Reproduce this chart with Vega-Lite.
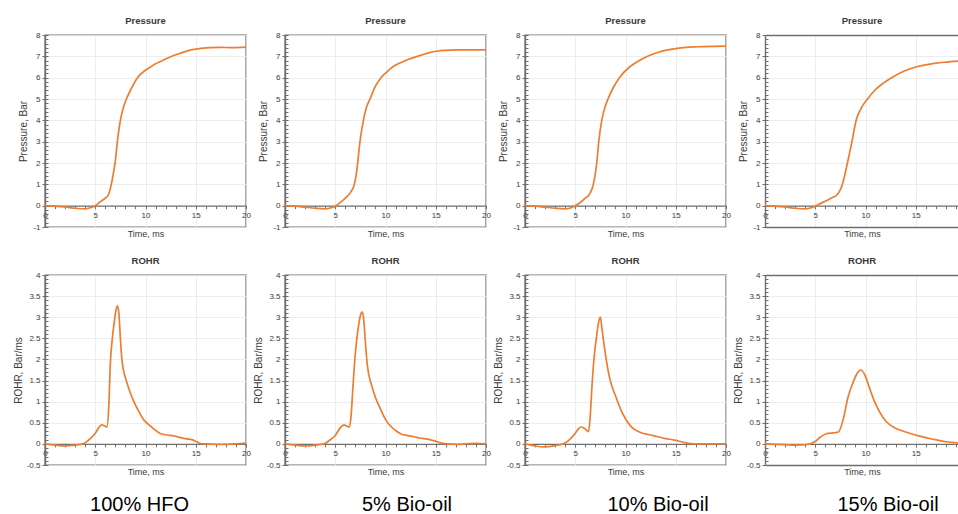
{
  "$schema": "https://vega.github.io/schema/vega-lite/v6.json",
  "padding": {"left": 12, "top": 14, "right": 0, "bottom": 0},
  "datasets": {
    "curves": [
      {"f":"HFO","k":"P","t":0,"v":0},{"f":"HFO","k":"P","t":1,"v":-0.02},{"f":"HFO","k":"P","t":2,"v":-0.06},{"f":"HFO","k":"P","t":3,"v":-0.12},{"f":"HFO","k":"P","t":4,"v":-0.15},{"f":"HFO","k":"P","t":4.5,"v":-0.1},{"f":"HFO","k":"P","t":5,"v":0},{"f":"HFO","k":"P","t":5.5,"v":0.18},{"f":"HFO","k":"P","t":6,"v":0.35},{"f":"HFO","k":"P","t":6.3,"v":0.5},{"f":"HFO","k":"P","t":6.6,"v":1.0},{"f":"HFO","k":"P","t":6.8,"v":1.5},{"f":"HFO","k":"P","t":7.0,"v":2.1},{"f":"HFO","k":"P","t":7.2,"v":3.0},{"f":"HFO","k":"P","t":7.5,"v":4.0},{"f":"HFO","k":"P","t":7.8,"v":4.6},{"f":"HFO","k":"P","t":8.1,"v":5.0},{"f":"HFO","k":"P","t":8.6,"v":5.5},{"f":"HFO","k":"P","t":9.2,"v":6.0},{"f":"HFO","k":"P","t":10,"v":6.35},{"f":"HFO","k":"P","t":10.5,"v":6.5},{"f":"HFO","k":"P","t":11,"v":6.65},{"f":"HFO","k":"P","t":11.5,"v":6.76},{"f":"HFO","k":"P","t":12.5,"v":6.98},{"f":"HFO","k":"P","t":13.5,"v":7.15},{"f":"HFO","k":"P","t":14.5,"v":7.3},{"f":"HFO","k":"P","t":15.5,"v":7.37},{"f":"HFO","k":"P","t":16.5,"v":7.41},{"f":"HFO","k":"P","t":17.5,"v":7.42},{"f":"HFO","k":"P","t":18.5,"v":7.41},{"f":"HFO","k":"P","t":19.5,"v":7.42},{"f":"HFO","k":"P","t":20,"v":7.43},
      {"f":"B5","k":"P","t":0,"v":0},{"f":"B5","k":"P","t":1,"v":-0.02},{"f":"B5","k":"P","t":2,"v":-0.07},{"f":"B5","k":"P","t":3,"v":-0.12},{"f":"B5","k":"P","t":4,"v":-0.15},{"f":"B5","k":"P","t":4.6,"v":-0.1},{"f":"B5","k":"P","t":5.07,"v":0},{"f":"B5","k":"P","t":5.5,"v":0.15},{"f":"B5","k":"P","t":6,"v":0.35},{"f":"B5","k":"P","t":6.57,"v":0.66},{"f":"B5","k":"P","t":6.9,"v":1.0},{"f":"B5","k":"P","t":7.1,"v":1.5},{"f":"B5","k":"P","t":7.23,"v":2.0},{"f":"B5","k":"P","t":7.46,"v":3.0},{"f":"B5","k":"P","t":7.8,"v":4.0},{"f":"B5","k":"P","t":8.1,"v":4.6},{"f":"B5","k":"P","t":8.46,"v":5.0},{"f":"B5","k":"P","t":9.0,"v":5.6},{"f":"B5","k":"P","t":9.55,"v":6.0},{"f":"B5","k":"P","t":10.1,"v":6.25},{"f":"B5","k":"P","t":10.7,"v":6.5},{"f":"B5","k":"P","t":11.5,"v":6.7},{"f":"B5","k":"P","t":12.3,"v":6.86},{"f":"B5","k":"P","t":13.2,"v":7.0},{"f":"B5","k":"P","t":14.2,"v":7.15},{"f":"B5","k":"P","t":15.2,"v":7.25},{"f":"B5","k":"P","t":16,"v":7.28},{"f":"B5","k":"P","t":17,"v":7.3},{"f":"B5","k":"P","t":18,"v":7.3},{"f":"B5","k":"P","t":19,"v":7.3},{"f":"B5","k":"P","t":20,"v":7.3},
      {"f":"B10","k":"P","t":0,"v":0},{"f":"B10","k":"P","t":1,"v":-0.02},{"f":"B10","k":"P","t":2,"v":-0.07},{"f":"B10","k":"P","t":3,"v":-0.12},{"f":"B10","k":"P","t":4,"v":-0.15},{"f":"B10","k":"P","t":4.6,"v":-0.1},{"f":"B10","k":"P","t":5.0,"v":0},{"f":"B10","k":"P","t":5.5,"v":0.15},{"f":"B10","k":"P","t":6.0,"v":0.35},{"f":"B10","k":"P","t":6.5,"v":0.6},{"f":"B10","k":"P","t":6.8,"v":1.0},{"f":"B10","k":"P","t":7.0,"v":1.5},{"f":"B10","k":"P","t":7.14,"v":2.0},{"f":"B10","k":"P","t":7.34,"v":3.0},{"f":"B10","k":"P","t":7.64,"v":4.0},{"f":"B10","k":"P","t":7.95,"v":4.6},{"f":"B10","k":"P","t":8.26,"v":5.0},{"f":"B10","k":"P","t":8.8,"v":5.55},{"f":"B10","k":"P","t":9.4,"v":6.0},{"f":"B10","k":"P","t":10.4,"v":6.5},{"f":"B10","k":"P","t":11.3,"v":6.78},{"f":"B10","k":"P","t":12.2,"v":7.0},{"f":"B10","k":"P","t":13.2,"v":7.18},{"f":"B10","k":"P","t":14.2,"v":7.3},{"f":"B10","k":"P","t":15.5,"v":7.4},{"f":"B10","k":"P","t":17.2,"v":7.45},{"f":"B10","k":"P","t":18.5,"v":7.47},{"f":"B10","k":"P","t":20,"v":7.48},
      {"f":"B15","k":"P","t":0,"v":0},{"f":"B15","k":"P","t":1,"v":-0.02},{"f":"B15","k":"P","t":2,"v":-0.06},{"f":"B15","k":"P","t":3,"v":-0.12},{"f":"B15","k":"P","t":4,"v":-0.15},{"f":"B15","k":"P","t":4.6,"v":-0.1},{"f":"B15","k":"P","t":5.06,"v":0},{"f":"B15","k":"P","t":5.6,"v":0.12},{"f":"B15","k":"P","t":6.2,"v":0.25},{"f":"B15","k":"P","t":6.7,"v":0.38},{"f":"B15","k":"P","t":7.15,"v":0.5},{"f":"B15","k":"P","t":7.45,"v":0.7},{"f":"B15","k":"P","t":7.7,"v":1.0},{"f":"B15","k":"P","t":8.2,"v":2.0},{"f":"B15","k":"P","t":8.65,"v":3.0},{"f":"B15","k":"P","t":9.07,"v":4.0},{"f":"B15","k":"P","t":9.6,"v":4.6},{"f":"B15","k":"P","t":10.2,"v":5.0},{"f":"B15","k":"P","t":10.9,"v":5.4},{"f":"B15","k":"P","t":11.7,"v":5.72},{"f":"B15","k":"P","t":12.6,"v":6.0},{"f":"B15","k":"P","t":13.8,"v":6.3},{"f":"B15","k":"P","t":15,"v":6.5},{"f":"B15","k":"P","t":16,"v":6.6},{"f":"B15","k":"P","t":17,"v":6.68},{"f":"B15","k":"P","t":18,"v":6.73},{"f":"B15","k":"P","t":19.3,"v":6.78},
      {"f":"HFO","k":"R","t":0,"v":0},{"f":"HFO","k":"R","t":1,"v":-0.03},{"f":"HFO","k":"R","t":2,"v":-0.05},{"f":"HFO","k":"R","t":3,"v":-0.03},{"f":"HFO","k":"R","t":3.8,"v":0},{"f":"HFO","k":"R","t":4.3,"v":0.08},{"f":"HFO","k":"R","t":5,"v":0.25},{"f":"HFO","k":"R","t":5.4,"v":0.4},{"f":"HFO","k":"R","t":5.65,"v":0.45},{"f":"HFO","k":"R","t":5.9,"v":0.43},{"f":"HFO","k":"R","t":6.15,"v":0.4},{"f":"HFO","k":"R","t":6.35,"v":0.9},{"f":"HFO","k":"R","t":6.5,"v":1.9},{"f":"HFO","k":"R","t":6.7,"v":2.5},{"f":"HFO","k":"R","t":6.9,"v":2.9},{"f":"HFO","k":"R","t":7.05,"v":3.15},{"f":"HFO","k":"R","t":7.2,"v":3.27},{"f":"HFO","k":"R","t":7.35,"v":3.1},{"f":"HFO","k":"R","t":7.5,"v":2.5},{"f":"HFO","k":"R","t":7.65,"v":2.0},{"f":"HFO","k":"R","t":7.85,"v":1.7},{"f":"HFO","k":"R","t":8.1,"v":1.49},{"f":"HFO","k":"R","t":8.5,"v":1.2},{"f":"HFO","k":"R","t":8.85,"v":1.0},{"f":"HFO","k":"R","t":9.3,"v":0.78},{"f":"HFO","k":"R","t":9.8,"v":0.58},{"f":"HFO","k":"R","t":10.5,"v":0.42},{"f":"HFO","k":"R","t":11,"v":0.32},{"f":"HFO","k":"R","t":11.5,"v":0.24},{"f":"HFO","k":"R","t":12.2,"v":0.21},{"f":"HFO","k":"R","t":12.8,"v":0.19},{"f":"HFO","k":"R","t":13.5,"v":0.15},{"f":"HFO","k":"R","t":14.1,"v":0.12},{"f":"HFO","k":"R","t":14.6,"v":0.1},{"f":"HFO","k":"R","t":15.1,"v":0.05},{"f":"HFO","k":"R","t":15.5,"v":0.01},{"f":"HFO","k":"R","t":16,"v":0},{"f":"HFO","k":"R","t":17,"v":-0.01},{"f":"HFO","k":"R","t":18,"v":-0.01},{"f":"HFO","k":"R","t":19,"v":0},{"f":"HFO","k":"R","t":20,"v":0.02},
      {"f":"B5","k":"R","t":0,"v":0},{"f":"B5","k":"R","t":1,"v":-0.03},{"f":"B5","k":"R","t":2,"v":-0.05},{"f":"B5","k":"R","t":3,"v":-0.03},{"f":"B5","k":"R","t":3.9,"v":0},{"f":"B5","k":"R","t":4.4,"v":0.08},{"f":"B5","k":"R","t":5,"v":0.2},{"f":"B5","k":"R","t":5.5,"v":0.38},{"f":"B5","k":"R","t":5.87,"v":0.45},{"f":"B5","k":"R","t":6.1,"v":0.43},{"f":"B5","k":"R","t":6.37,"v":0.4},{"f":"B5","k":"R","t":6.55,"v":0.6},{"f":"B5","k":"R","t":6.75,"v":1.3},{"f":"B5","k":"R","t":6.95,"v":2.0},{"f":"B5","k":"R","t":7.15,"v":2.5},{"f":"B5","k":"R","t":7.35,"v":2.85},{"f":"B5","k":"R","t":7.55,"v":3.08},{"f":"B5","k":"R","t":7.68,"v":3.13},{"f":"B5","k":"R","t":7.85,"v":2.9},{"f":"B5","k":"R","t":8.0,"v":2.4},{"f":"B5","k":"R","t":8.2,"v":1.85},{"f":"B5","k":"R","t":8.6,"v":1.4},{"f":"B5","k":"R","t":9.0,"v":1.1},{"f":"B5","k":"R","t":9.45,"v":0.85},{"f":"B5","k":"R","t":10.1,"v":0.54},{"f":"B5","k":"R","t":10.6,"v":0.4},{"f":"B5","k":"R","t":11.1,"v":0.3},{"f":"B5","k":"R","t":11.6,"v":0.23},{"f":"B5","k":"R","t":12.1,"v":0.2},{"f":"B5","k":"R","t":12.8,"v":0.17},{"f":"B5","k":"R","t":13.4,"v":0.14},{"f":"B5","k":"R","t":14.4,"v":0.1},{"f":"B5","k":"R","t":14.9,"v":0.07},{"f":"B5","k":"R","t":15.4,"v":0.03},{"f":"B5","k":"R","t":16.2,"v":0},{"f":"B5","k":"R","t":17,"v":-0.01},{"f":"B5","k":"R","t":18,"v":0},{"f":"B5","k":"R","t":19,"v":0.01},{"f":"B5","k":"R","t":20,"v":0},
      {"f":"B10","k":"R","t":0,"v":0},{"f":"B10","k":"R","t":1,"v":-0.05},{"f":"B10","k":"R","t":2,"v":-0.07},{"f":"B10","k":"R","t":3,"v":-0.04},{"f":"B10","k":"R","t":3.8,"v":0},{"f":"B10","k":"R","t":4.3,"v":0.07},{"f":"B10","k":"R","t":5.0,"v":0.25},{"f":"B10","k":"R","t":5.3,"v":0.35},{"f":"B10","k":"R","t":5.57,"v":0.4},{"f":"B10","k":"R","t":5.9,"v":0.37},{"f":"B10","k":"R","t":6.33,"v":0.29},{"f":"B10","k":"R","t":6.5,"v":0.7},{"f":"B10","k":"R","t":6.7,"v":1.5},{"f":"B10","k":"R","t":6.9,"v":2.1},{"f":"B10","k":"R","t":7.1,"v":2.5},{"f":"B10","k":"R","t":7.3,"v":2.85},{"f":"B10","k":"R","t":7.5,"v":3.0},{"f":"B10","k":"R","t":7.65,"v":2.75},{"f":"B10","k":"R","t":7.9,"v":2.29},{"f":"B10","k":"R","t":8.4,"v":1.58},{"f":"B10","k":"R","t":9.05,"v":1.11},{"f":"B10","k":"R","t":9.7,"v":0.72},{"f":"B10","k":"R","t":10.55,"v":0.41},{"f":"B10","k":"R","t":11.5,"v":0.27},{"f":"B10","k":"R","t":12.5,"v":0.21},{"f":"B10","k":"R","t":13.2,"v":0.17},{"f":"B10","k":"R","t":13.9,"v":0.13},{"f":"B10","k":"R","t":14.9,"v":0.09},{"f":"B10","k":"R","t":15.9,"v":0.03},{"f":"B10","k":"R","t":16.8,"v":0},{"f":"B10","k":"R","t":18,"v":0},{"f":"B10","k":"R","t":19,"v":0},{"f":"B10","k":"R","t":20,"v":0},
      {"f":"B15","k":"R","t":0,"v":0},{"f":"B15","k":"R","t":1,"v":-0.01},{"f":"B15","k":"R","t":2,"v":-0.02},{"f":"B15","k":"R","t":3,"v":-0.03},{"f":"B15","k":"R","t":4,"v":-0.02},{"f":"B15","k":"R","t":4.5,"v":0},{"f":"B15","k":"R","t":4.95,"v":0.05},{"f":"B15","k":"R","t":5.45,"v":0.15},{"f":"B15","k":"R","t":6.1,"v":0.24},{"f":"B15","k":"R","t":6.8,"v":0.26},{"f":"B15","k":"R","t":7.3,"v":0.28},{"f":"B15","k":"R","t":7.8,"v":0.6},{"f":"B15","k":"R","t":8.25,"v":1.1},{"f":"B15","k":"R","t":8.75,"v":1.45},{"f":"B15","k":"R","t":9.25,"v":1.7},{"f":"B15","k":"R","t":9.55,"v":1.75},{"f":"B15","k":"R","t":9.9,"v":1.65},{"f":"B15","k":"R","t":10.4,"v":1.32},{"f":"B15","k":"R","t":10.9,"v":1.0},{"f":"B15","k":"R","t":11.4,"v":0.76},{"f":"B15","k":"R","t":12.05,"v":0.53},{"f":"B15","k":"R","t":13.0,"v":0.37},{"f":"B15","k":"R","t":14.0,"v":0.28},{"f":"B15","k":"R","t":15.3,"v":0.19},{"f":"B15","k":"R","t":16.7,"v":0.11},{"f":"B15","k":"R","t":18,"v":0.05},{"f":"B15","k":"R","t":19.5,"v":0.02}
    ]
  },
  "data": {"name": "curves"},
  "columns": 4,
  "spacing": {"row": 48, "column": 39},
  "bounds": "flush",
  "concat": [
    {
      "width": 201, "height": 192, "title": "Pressure",
      "transform": [{"filter": "datum.f == 'HFO' && datum.k == 'P'"}],
      "layer": [
        {"mark": {"type": "line", "clip": true},
         "encoding": {
           "x": {"field": "t", "type": "quantitative", "scale": {"domain": [0, 20], "nice": false},
                 "axis": {"values": [0,5,10,15,20], "offset": -21.33, "tickSize": 3, "labelPadding": 3, "labelFlush": false, "labelOverlap": false, "grid": true, "title": "Time, ms", "titleFontSize": 9, "titleY": 28, "titleBaseline": "middle"}},
           "y": {"field": "v", "type": "quantitative", "scale": {"domain": [-1, 8], "nice": false, "zero": false},
                 "axis": {"values": [-1,0,1,2,3,4,5,6,7,8], "labelExpr": "'' + datum.value", "tickSize": 3, "labelPadding": 2, "grid": true, "title": "Pressure, Bar", "titleX": -22, "titleY": 96, "titleAngle": -90, "titleAlign": "center", "titleBaseline": "middle"}}
         }},
        {"mark": {"type": "line", "opacity": 0},
         "encoding": {
           "x": {"field": "t", "type": "quantitative", "scale": {"domain": [0, 20], "nice": false},
                 "axis": {"orient": "bottom", "values": [0,1,2,3,4,5,6,7,8,9,10,11,12,13,14,15,16,17,18,19,20], "offset": -21.33, "tickSize": 3, "tickWidth": 1, "labels": false, "domain": false, "grid": false, "title": null}},
           "y": {"field": "v", "type": "quantitative", "scale": {"domain": [-1, 8], "nice": false, "zero": false},
                 "axis": {"orient": "left", "values": [-1,-0.8,-0.6,-0.4,-0.2,0,0.2,0.4,0.6,0.8,1,1.2,1.4,1.6,1.8,2,2.2,2.4,2.6,2.8,3,3.2,3.4,3.6,3.8,4,4.2,4.4,4.6,4.8,5,5.2,5.4,5.6,5.8,6,6.2,6.4,6.6,6.8,7,7.2,7.4,7.6,7.8,8], "tickSize": -3, "tickWidth": 1, "labels": false, "domain": false, "grid": false, "title": null}}
         }}
      ],
      "resolve": {"axis": {"x": "independent", "y": "independent"}}
    },
    {
      "width": 201, "height": 192, "title": "Pressure",
      "transform": [{"filter": "datum.f == 'B5' && datum.k == 'P'"}],
      "layer": [
        {"mark": {"type": "line", "clip": true},
         "encoding": {
           "x": {"field": "t", "type": "quantitative", "scale": {"domain": [0, 20], "nice": false},
                 "axis": {"values": [0,5,10,15,20], "offset": -21.33, "tickSize": 3, "labelPadding": 3, "labelFlush": false, "labelOverlap": false, "grid": true, "title": "Time, ms", "titleFontSize": 9, "titleY": 28, "titleBaseline": "middle"}},
           "y": {"field": "v", "type": "quantitative", "scale": {"domain": [-1, 8], "nice": false, "zero": false},
                 "axis": {"values": [-1,0,1,2,3,4,5,6,7,8], "labelExpr": "'' + datum.value", "tickSize": 3, "labelPadding": 2, "grid": true, "title": "Pressure, Bar", "titleX": -22, "titleY": 96, "titleAngle": -90, "titleAlign": "center", "titleBaseline": "middle"}}
         }},
        {"mark": {"type": "line", "opacity": 0},
         "encoding": {
           "x": {"field": "t", "type": "quantitative", "scale": {"domain": [0, 20], "nice": false},
                 "axis": {"orient": "bottom", "values": [0,1,2,3,4,5,6,7,8,9,10,11,12,13,14,15,16,17,18,19,20], "offset": -21.33, "tickSize": 3, "tickWidth": 1, "labels": false, "domain": false, "grid": false, "title": null}},
           "y": {"field": "v", "type": "quantitative", "scale": {"domain": [-1, 8], "nice": false, "zero": false},
                 "axis": {"orient": "left", "values": [-1,-0.8,-0.6,-0.4,-0.2,0,0.2,0.4,0.6,0.8,1,1.2,1.4,1.6,1.8,2,2.2,2.4,2.6,2.8,3,3.2,3.4,3.6,3.8,4,4.2,4.4,4.6,4.8,5,5.2,5.4,5.6,5.8,6,6.2,6.4,6.6,6.8,7,7.2,7.4,7.6,7.8,8], "tickSize": -3, "tickWidth": 1, "labels": false, "domain": false, "grid": false, "title": null}}
         }}
      ],
      "resolve": {"axis": {"x": "independent", "y": "independent"}}
    },
    {
      "width": 201, "height": 192, "title": "Pressure",
      "transform": [{"filter": "datum.f == 'B10' && datum.k == 'P'"}],
      "layer": [
        {"mark": {"type": "line", "clip": true},
         "encoding": {
           "x": {"field": "t", "type": "quantitative", "scale": {"domain": [0, 20], "nice": false},
                 "axis": {"values": [0,5,10,15,20], "offset": -21.33, "tickSize": 3, "labelPadding": 3, "labelFlush": false, "labelOverlap": false, "grid": true, "title": "Time, ms", "titleFontSize": 9, "titleY": 28, "titleBaseline": "middle"}},
           "y": {"field": "v", "type": "quantitative", "scale": {"domain": [-1, 8], "nice": false, "zero": false},
                 "axis": {"values": [-1,0,1,2,3,4,5,6,7,8], "labelExpr": "'' + datum.value", "tickSize": 3, "labelPadding": 2, "grid": true, "title": "Pressure, Bar", "titleX": -22, "titleY": 96, "titleAngle": -90, "titleAlign": "center", "titleBaseline": "middle"}}
         }},
        {"mark": {"type": "line", "opacity": 0},
         "encoding": {
           "x": {"field": "t", "type": "quantitative", "scale": {"domain": [0, 20], "nice": false},
                 "axis": {"orient": "bottom", "values": [0,1,2,3,4,5,6,7,8,9,10,11,12,13,14,15,16,17,18,19,20], "offset": -21.33, "tickSize": 3, "tickWidth": 1, "labels": false, "domain": false, "grid": false, "title": null}},
           "y": {"field": "v", "type": "quantitative", "scale": {"domain": [-1, 8], "nice": false, "zero": false},
                 "axis": {"orient": "left", "values": [-1,-0.8,-0.6,-0.4,-0.2,0,0.2,0.4,0.6,0.8,1,1.2,1.4,1.6,1.8,2,2.2,2.4,2.6,2.8,3,3.2,3.4,3.6,3.8,4,4.2,4.4,4.6,4.8,5,5.2,5.4,5.6,5.8,6,6.2,6.4,6.6,6.8,7,7.2,7.4,7.6,7.8,8], "tickSize": -3, "tickWidth": 1, "labels": false, "domain": false, "grid": false, "title": null}}
         }}
      ],
      "resolve": {"axis": {"x": "independent", "y": "independent"}}
    },
    {
      "width": 194, "height": 192, "title": "Pressure",
      "view": {"stroke": null},
      "transform": [{"filter": "datum.f == 'B15' && datum.k == 'P'"}],
      "layer": [
        {"mark": {"type": "line", "clip": true},
         "encoding": {
           "x": {"field": "t", "type": "quantitative", "scale": {"domain": [0, 19.3], "nice": false},
                 "axis": {"values": [0,5,10,15], "offset": -21.33, "tickSize": 3, "labelPadding": 3, "labelFlush": false, "labelOverlap": false, "grid": true, "title": "Time, ms", "titleFontSize": 9, "titleY": 28, "titleBaseline": "middle"}},
           "y": {"field": "v", "type": "quantitative", "scale": {"domain": [-1, 8], "nice": false, "zero": false},
                 "axis": {"values": [-1,0,1,2,3,4,5,6,7,8], "labelExpr": "'' + datum.value", "tickSize": 3, "labelPadding": 2, "grid": true, "title": "Pressure, Bar", "titleX": -22, "titleY": 96, "titleAngle": -90, "titleAlign": "center", "titleBaseline": "middle"}}
         }},
        {"mark": {"type": "line", "opacity": 0},
         "encoding": {
           "x": {"field": "t", "type": "quantitative", "scale": {"domain": [0, 19.3], "nice": false},
                 "axis": {"orient": "bottom", "values": [0,1,2,3,4,5,6,7,8,9,10,11,12,13,14,15,16,17,18,19], "offset": -21.33, "tickSize": 3, "tickWidth": 1, "labels": false, "domain": false, "grid": false, "title": null}},
           "y": {"field": "v", "type": "quantitative", "scale": {"domain": [-1, 8], "nice": false, "zero": false},
                 "axis": {"orient": "left", "values": [-1,-0.8,-0.6,-0.4,-0.2,0,0.2,0.4,0.6,0.8,1,1.2,1.4,1.6,1.8,2,2.2,2.4,2.6,2.8,3,3.2,3.4,3.6,3.8,4,4.2,4.4,4.6,4.8,5,5.2,5.4,5.6,5.8,6,6.2,6.4,6.6,6.8,7,7.2,7.4,7.6,7.8,8], "tickSize": -3, "tickWidth": 1, "labels": false, "domain": false, "grid": false, "title": null}}
         }},
        {"mark": {"type": "line", "opacity": 0},
         "encoding": {
           "x": {"field": "t", "type": "quantitative", "scale": {"domain": [0, 19.3], "nice": false},
                 "axis": {"orient": "top", "domain": true, "ticks": false, "labels": false, "grid": false, "title": null}},
           "y": {"field": "v", "type": "quantitative", "scale": {"domain": [-1, 8], "nice": false, "zero": false}, "axis": null}
         }},
        {"mark": {"type": "line", "opacity": 0},
         "encoding": {
           "x": {"field": "t", "type": "quantitative", "scale": {"domain": [0, 19.3], "nice": false},
                 "axis": {"orient": "bottom", "domain": true, "ticks": false, "labels": false, "grid": false, "title": null}},
           "y": {"field": "v", "type": "quantitative", "scale": {"domain": [-1, 8], "nice": false, "zero": false}, "axis": null}
         }}
      ],
      "resolve": {"axis": {"x": "independent", "y": "independent"}}
    },
    {
      "width": 201, "height": 190, "title": "ROHR",
      "transform": [{"filter": "datum.f == 'HFO' && datum.k == 'R'"}],
      "layer": [
        {"mark": {"type": "line", "clip": true},
         "encoding": {
           "x": {"field": "t", "type": "quantitative", "scale": {"domain": [0, 20], "nice": false},
                 "axis": {"values": [0,5,10,15,20], "offset": -21.11, "tickSize": 3, "labelPadding": 3, "labelFlush": false, "labelOverlap": false, "grid": true, "title": "Time, ms", "titleFontSize": 9, "titleY": 28, "titleBaseline": "middle"}},
           "y": {"field": "v", "type": "quantitative", "scale": {"domain": [-0.5, 4], "nice": false, "zero": false},
                 "axis": {"values": [-0.5,0,0.5,1,1.5,2,2.5,3,3.5,4], "labelExpr": "'' + datum.value", "tickSize": 3, "labelPadding": 2, "grid": true, "title": "ROHR, Bar/ms", "titleX": -27, "titleY": 95, "titleAngle": -90, "titleAlign": "center", "titleBaseline": "middle"}}
         }},
        {"mark": {"type": "line", "opacity": 0},
         "encoding": {
           "x": {"field": "t", "type": "quantitative", "scale": {"domain": [0, 20], "nice": false},
                 "axis": {"orient": "bottom", "values": [0,1,2,3,4,5,6,7,8,9,10,11,12,13,14,15,16,17,18,19,20], "offset": -21.11, "tickSize": 3, "tickWidth": 1, "labels": false, "domain": false, "grid": false, "title": null}},
           "y": {"field": "v", "type": "quantitative", "scale": {"domain": [-0.5, 4], "nice": false, "zero": false},
                 "axis": {"orient": "left", "values": [-0.5,-0.4,-0.3,-0.2,-0.1,0,0.1,0.2,0.3,0.4,0.5,0.6,0.7,0.8,0.9,1,1.1,1.2,1.3,1.4,1.5,1.6,1.7,1.8,1.9,2,2.1,2.2,2.3,2.4,2.5,2.6,2.7,2.8,2.9,3,3.1,3.2,3.3,3.4,3.5,3.6,3.7,3.8,3.9,4], "tickSize": -3, "tickWidth": 1, "labels": false, "domain": false, "grid": false, "title": null}}
         }}
      ],
      "resolve": {"axis": {"x": "independent", "y": "independent"}}
    },
    {
      "width": 201, "height": 190, "title": "ROHR",
      "transform": [{"filter": "datum.f == 'B5' && datum.k == 'R'"}],
      "layer": [
        {"mark": {"type": "line", "clip": true},
         "encoding": {
           "x": {"field": "t", "type": "quantitative", "scale": {"domain": [0, 20], "nice": false},
                 "axis": {"values": [0,5,10,15,20], "offset": -21.11, "tickSize": 3, "labelPadding": 3, "labelFlush": false, "labelOverlap": false, "grid": true, "title": "Time, ms", "titleFontSize": 9, "titleY": 28, "titleBaseline": "middle"}},
           "y": {"field": "v", "type": "quantitative", "scale": {"domain": [-0.5, 4], "nice": false, "zero": false},
                 "axis": {"values": [-0.5,0,0.5,1,1.5,2,2.5,3,3.5,4], "labelExpr": "'' + datum.value", "tickSize": 3, "labelPadding": 2, "grid": true, "title": "ROHR, Bar/ms", "titleX": -27, "titleY": 95, "titleAngle": -90, "titleAlign": "center", "titleBaseline": "middle"}}
         }},
        {"mark": {"type": "line", "opacity": 0},
         "encoding": {
           "x": {"field": "t", "type": "quantitative", "scale": {"domain": [0, 20], "nice": false},
                 "axis": {"orient": "bottom", "values": [0,1,2,3,4,5,6,7,8,9,10,11,12,13,14,15,16,17,18,19,20], "offset": -21.11, "tickSize": 3, "tickWidth": 1, "labels": false, "domain": false, "grid": false, "title": null}},
           "y": {"field": "v", "type": "quantitative", "scale": {"domain": [-0.5, 4], "nice": false, "zero": false},
                 "axis": {"orient": "left", "values": [-0.5,-0.4,-0.3,-0.2,-0.1,0,0.1,0.2,0.3,0.4,0.5,0.6,0.7,0.8,0.9,1,1.1,1.2,1.3,1.4,1.5,1.6,1.7,1.8,1.9,2,2.1,2.2,2.3,2.4,2.5,2.6,2.7,2.8,2.9,3,3.1,3.2,3.3,3.4,3.5,3.6,3.7,3.8,3.9,4], "tickSize": -3, "tickWidth": 1, "labels": false, "domain": false, "grid": false, "title": null}}
         }}
      ],
      "resolve": {"axis": {"x": "independent", "y": "independent"}}
    },
    {
      "width": 201, "height": 190, "title": "ROHR",
      "transform": [{"filter": "datum.f == 'B10' && datum.k == 'R'"}],
      "layer": [
        {"mark": {"type": "line", "clip": true},
         "encoding": {
           "x": {"field": "t", "type": "quantitative", "scale": {"domain": [0, 20], "nice": false},
                 "axis": {"values": [0,5,10,15,20], "offset": -21.11, "tickSize": 3, "labelPadding": 3, "labelFlush": false, "labelOverlap": false, "grid": true, "title": "Time, ms", "titleFontSize": 9, "titleY": 28, "titleBaseline": "middle"}},
           "y": {"field": "v", "type": "quantitative", "scale": {"domain": [-0.5, 4], "nice": false, "zero": false},
                 "axis": {"values": [-0.5,0,0.5,1,1.5,2,2.5,3,3.5,4], "labelExpr": "'' + datum.value", "tickSize": 3, "labelPadding": 2, "grid": true, "title": "ROHR, Bar/ms", "titleX": -27, "titleY": 95, "titleAngle": -90, "titleAlign": "center", "titleBaseline": "middle"}}
         }},
        {"mark": {"type": "line", "opacity": 0},
         "encoding": {
           "x": {"field": "t", "type": "quantitative", "scale": {"domain": [0, 20], "nice": false},
                 "axis": {"orient": "bottom", "values": [0,1,2,3,4,5,6,7,8,9,10,11,12,13,14,15,16,17,18,19,20], "offset": -21.11, "tickSize": 3, "tickWidth": 1, "labels": false, "domain": false, "grid": false, "title": null}},
           "y": {"field": "v", "type": "quantitative", "scale": {"domain": [-0.5, 4], "nice": false, "zero": false},
                 "axis": {"orient": "left", "values": [-0.5,-0.4,-0.3,-0.2,-0.1,0,0.1,0.2,0.3,0.4,0.5,0.6,0.7,0.8,0.9,1,1.1,1.2,1.3,1.4,1.5,1.6,1.7,1.8,1.9,2,2.1,2.2,2.3,2.4,2.5,2.6,2.7,2.8,2.9,3,3.1,3.2,3.3,3.4,3.5,3.6,3.7,3.8,3.9,4], "tickSize": -3, "tickWidth": 1, "labels": false, "domain": false, "grid": false, "title": null}}
         }}
      ],
      "resolve": {"axis": {"x": "independent", "y": "independent"}}
    },
    {
      "width": 194, "height": 190, "title": "ROHR",
      "view": {"stroke": null},
      "transform": [{"filter": "datum.f == 'B15' && datum.k == 'R'"}],
      "layer": [
        {"mark": {"type": "line", "clip": true},
         "encoding": {
           "x": {"field": "t", "type": "quantitative", "scale": {"domain": [0, 19.3], "nice": false},
                 "axis": {"values": [0,5,10,15], "offset": -21.11, "tickSize": 3, "labelPadding": 3, "labelFlush": false, "labelOverlap": false, "grid": true, "title": "Time, ms", "titleFontSize": 9, "titleY": 28, "titleBaseline": "middle"}},
           "y": {"field": "v", "type": "quantitative", "scale": {"domain": [-0.5, 4], "nice": false, "zero": false},
                 "axis": {"values": [-0.5,0,0.5,1,1.5,2,2.5,3,3.5,4], "labelExpr": "'' + datum.value", "tickSize": 3, "labelPadding": 2, "grid": true, "title": "ROHR, Bar/ms", "titleX": -27, "titleY": 95, "titleAngle": -90, "titleAlign": "center", "titleBaseline": "middle"}}
         }},
        {"mark": {"type": "line", "opacity": 0},
         "encoding": {
           "x": {"field": "t", "type": "quantitative", "scale": {"domain": [0, 19.3], "nice": false},
                 "axis": {"orient": "bottom", "values": [0,1,2,3,4,5,6,7,8,9,10,11,12,13,14,15,16,17,18,19], "offset": -21.11, "tickSize": 3, "tickWidth": 1, "labels": false, "domain": false, "grid": false, "title": null}},
           "y": {"field": "v", "type": "quantitative", "scale": {"domain": [-0.5, 4], "nice": false, "zero": false},
                 "axis": {"orient": "left", "values": [-0.5,-0.4,-0.3,-0.2,-0.1,0,0.1,0.2,0.3,0.4,0.5,0.6,0.7,0.8,0.9,1,1.1,1.2,1.3,1.4,1.5,1.6,1.7,1.8,1.9,2,2.1,2.2,2.3,2.4,2.5,2.6,2.7,2.8,2.9,3,3.1,3.2,3.3,3.4,3.5,3.6,3.7,3.8,3.9,4], "tickSize": -3, "tickWidth": 1, "labels": false, "domain": false, "grid": false, "title": null}}
         }},
        {"mark": {"type": "line", "opacity": 0},
         "encoding": {
           "x": {"field": "t", "type": "quantitative", "scale": {"domain": [0, 19.3], "nice": false},
                 "axis": {"orient": "top", "domain": true, "ticks": false, "labels": false, "grid": false, "title": null}},
           "y": {"field": "v", "type": "quantitative", "scale": {"domain": [-0.5, 4], "nice": false, "zero": false}, "axis": null}
         }},
        {"mark": {"type": "line", "opacity": 0},
         "encoding": {
           "x": {"field": "t", "type": "quantitative", "scale": {"domain": [0, 19.3], "nice": false},
                 "axis": {"orient": "bottom", "domain": true, "ticks": false, "labels": false, "grid": false, "title": null}},
           "y": {"field": "v", "type": "quantitative", "scale": {"domain": [-0.5, 4], "nice": false, "zero": false}, "axis": null}
         }}
      ],
      "resolve": {"axis": {"x": "independent", "y": "independent"}}
    },
    {"width": 201, "height": 1, "view": {"stroke": null}, "data": {"values": [{"label": "100% HFO"}]},
     "mark": {"type": "text", "fontSize": 20, "dx": -6, "dy": -8.5, "baseline": "middle", "color": "#000000", "font": "Liberation Sans"},
     "encoding": {"text": {"field": "label"}}},
    {"width": 201, "height": 1, "view": {"stroke": null}, "data": {"values": [{"label": "5% Bio-oil"}]},
     "mark": {"type": "text", "fontSize": 20, "dx": 21.5, "dy": -8.5, "baseline": "middle", "color": "#000000", "font": "Liberation Sans"},
     "encoding": {"text": {"field": "label"}}},
    {"width": 201, "height": 1, "view": {"stroke": null}, "data": {"values": [{"label": "10% Bio-oil"}]},
     "mark": {"type": "text", "fontSize": 20, "dx": 32.5, "dy": -8.5, "baseline": "middle", "color": "#000000", "font": "Liberation Sans"},
     "encoding": {"text": {"field": "label"}}},
    {"width": 194, "height": 1, "view": {"stroke": null}, "data": {"values": [{"label": "15% Bio-oil"}]},
     "mark": {"type": "text", "fontSize": 20, "dx": 26, "dy": -8.5, "baseline": "middle", "color": "#000000", "font": "Liberation Sans"},
     "encoding": {"text": {"field": "label"}}}
  ],
  "config": {
    "font": "Liberation Sans",
    "view": {"stroke": "#6e6e6e", "strokeWidth": 1.4},
    "axis": {"labelFontSize": 8, "labelColor": "#3a3a3a", "titleFontSize": 10, "titleFontWeight": "normal", "titleColor": "#3a3a3a", "domainColor": "#6e6e6e", "domainWidth": 1.4, "tickColor": "#6e6e6e", "tickWidth": 1, "gridColor": "#e9e9e9", "gridWidth": 0.8},
    "title": {"fontSize": 9.5, "fontWeight": "bold", "color": "#3a3a3a", "offset": 6},
    "line": {"color": "#ED7D31", "strokeWidth": 1.7, "interpolate": "monotone"}
  }
}
